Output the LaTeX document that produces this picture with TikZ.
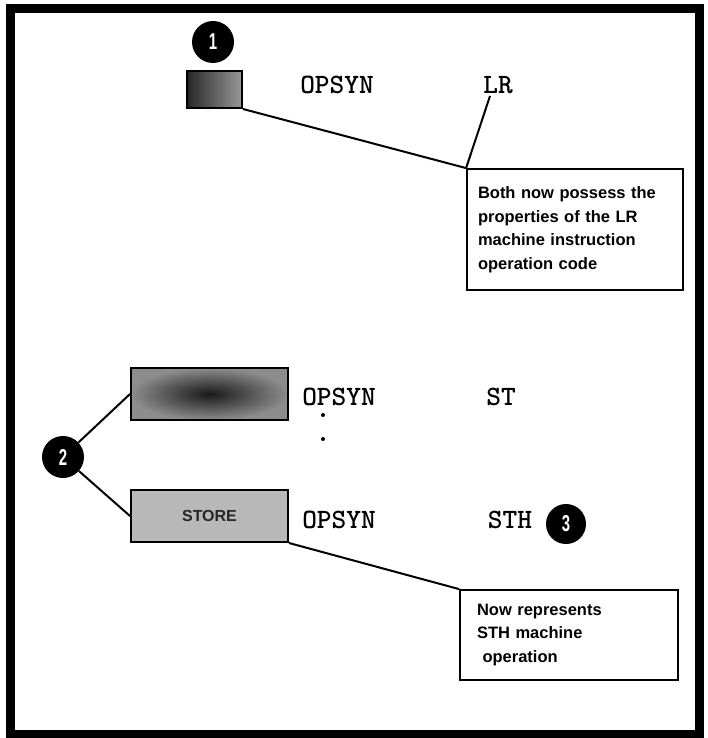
\documentclass[tikz,border=0pt]{standalone}
\usepackage{fontspec}
\setmainfont{Liberation Sans}
\newfontfamily\boxfnt{Liberation Sans}
\begin{document}
\begin{tikzpicture}[x=1pt,y=-1pt,
  frame/.style={line width=9pt},
  conn/.style={line width=2pt},
  code/.style={font=\ttfamily\bfseries\fontsize{28}{28}\selectfont, inner sep=0pt},
  marker/.style={circle, fill=black, minimum size=42pt, inner sep=0pt, text=white,
     font=\bfseries\fontsize{23}{23}\selectfont},
  labelbox/.style={draw, line width=1.8pt, fill=white, align=left, inner sep=0pt,
     font=\boxfnt\bfseries\fontsize{16.5}{23.5}\selectfont},
  shadebox/.style={draw, line width=2pt, inner sep=0pt}
]
\useasboundingbox (0,0) rectangle (707,738);
\draw[frame] (10.5,8.5) rectangle (699.5,734.5);

% item 1
\node[marker] (c1) at (213,42) {\scalebox{0.65}[1]{1}};
\node[shadebox, minimum width=55pt, minimum height=37pt, left color=black!85, right color=black!40] (s1) at (214.5,89.5) {};
\node[code] (op1) at (337,85) {OPSYN};
\node[code] (lr) at (498,85) {LR};
\node[labelbox, minimum width=216pt, minimum height=121pt, text width=194pt] (b1) at (575,229.5)
  {Both now possess the\\properties of the LR\\machine instruction\\operation code};
\coordinate (lrfoot) at (490,96);
\draw[conn] (s1.south east) -- (b1.north west);
\draw[conn] (lrfoot) -- (b1.north west);

% item 2
\node[shadebox, minimum width=157pt, minimum height=52pt, inner color=black!90, outer color=black!45] (st) at (209.5,394) {};
\node[shadebox, minimum width=157pt, minimum height=52pt, fill=black!28, text=black!85,
  font=\bfseries\fontsize{16}{16}\selectfont] (store) at (209.5,516) {STORE};
\node[code] (op2) at (339,397) {OPSYN};
\node[code] (st2) at (501,397) {ST};
\node[circle, fill=black, inner sep=0pt, minimum size=4pt] (d1) at (323,415) {};
\node[circle, fill=black, inner sep=0pt, minimum size=4pt] (d2) at (323,439) {};
\node[code] (op3) at (339,520) {OPSYN};
\node[code] (sth) at (510,520) {STH};
\node[marker] (c2) at (63,457) {\scalebox{0.65}[1]{2}};
\node[marker, minimum size=40pt] (c3) at (566,524) {\scalebox{0.65}[1]{3}};
\draw[conn] (c2) -- (st.west);
\draw[conn] (c2) -- (store.west);
\node[labelbox, minimum width=218pt, minimum height=90pt, text width=184pt] (b2) at (569,635)
  {Now represents\\STH machine\\\ operation\\[4pt]};
\draw[conn] (store.south east) -- (b2.north west);
\end{tikzpicture}
\end{document}
